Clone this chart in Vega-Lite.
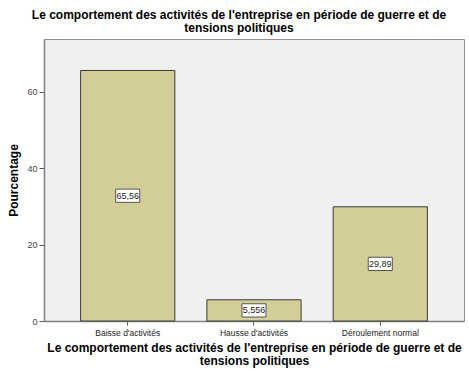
{
  "$schema": "https://vega.github.io/schema/vega-lite/v6.json",
  "autosize": "none",
  "width": 420,
  "height": 282,
  "padding": {"left": 44, "top": 39, "right": 5, "bottom": 54},
  "background": "white",
  "title": {
    "text": ["Le comportement des activités de l'entreprise en période de guerre et de", "tensions politiques"],
    "font": "Liberation Sans",
    "fontSize": 12,
    "fontWeight": "bold",
    "color": "black",
    "anchor": "middle",
    "dx": -15,
    "offset": 4,
    "lineHeight": 13
  },
  "config": {
    "view": {"fill": "#F0F0F0", "stroke": "#909090", "strokeWidth": 1},
    "font": "Liberation Sans"
  },
  "data": {
    "values": [
      {"cat": "Baisse d'activités", "value": 65.56, "label": "65,56"},
      {"cat": "Hausse d'activités", "value": 5.556, "label": "5,556"},
      {"cat": "Déroulement normal", "value": 29.89, "label": "29,89"}
    ]
  },
  "transform": [{"calculate": "datum.value / 2", "as": "mid"}],
  "encoding": {
    "x": {
      "field": "cat",
      "type": "nominal",
      "sort": null,
      "scale": {"paddingInner": 0.254, "paddingOuter": 0.29},
      "axis": {
        "title": ["Le comportement des activités de l'entreprise en période de guerre et de", "tensions politiques"],
        "titleFont": "Liberation Sans",
        "titleFontSize": 12,
        "titleFontWeight": "bold",
        "titleColor": "black",
        "titlePadding": 6,
        "titleLineHeight": 13,
        "labelAngle": 0,
        "labelFontSize": 8.5,
        "labelColor": "#222",
        "labelPadding": 3,
        "tickSize": 4,
        "tickColor": "#555",
        "domainColor": "#808080",
        "domainWidth": 1.5,
        "grid": false
      }
    }
  },
  "layer": [
    {
      "mark": {"type": "bar", "fill": "#D3CE97", "stroke": "#3a3a3a", "strokeWidth": 1},
      "encoding": {
        "y": {
          "field": "value",
          "type": "quantitative",
          "scale": {"domain": [0, 73.8], "nice": false},
          "axis": {
            "title": "Pourcentage",
            "titleFont": "Liberation Sans",
            "titleFontSize": 12,
            "titleFontWeight": "bold",
            "titleColor": "black",
            "titlePadding": 6,
            "values": [0, 20, 40, 60],
            "labelFontSize": 9,
            "labelColor": "#444",
            "tickSize": 5,
            "tickColor": "#555",
            "domainColor": "#808080",
            "domainWidth": 1.5,
            "grid": false
          }
        }
      }
    },
    {
      "mark": {"type": "point", "shape": "M-1,-0.55L1,-0.55L1,0.55L-1,0.55Z", "size": 580, "filled": true, "fill": "white", "stroke": "#555", "strokeWidth": 1, "opacity": 1},
      "encoding": {"y": {"field": "mid", "type": "quantitative"}}
    },
    {
      "mark": {"type": "text", "fontSize": 9, "color": "#222", "baseline": "middle", "align": "center"},
      "encoding": {
        "y": {"field": "mid", "type": "quantitative"},
        "text": {"field": "label"}
      }
    }
  ]
}
